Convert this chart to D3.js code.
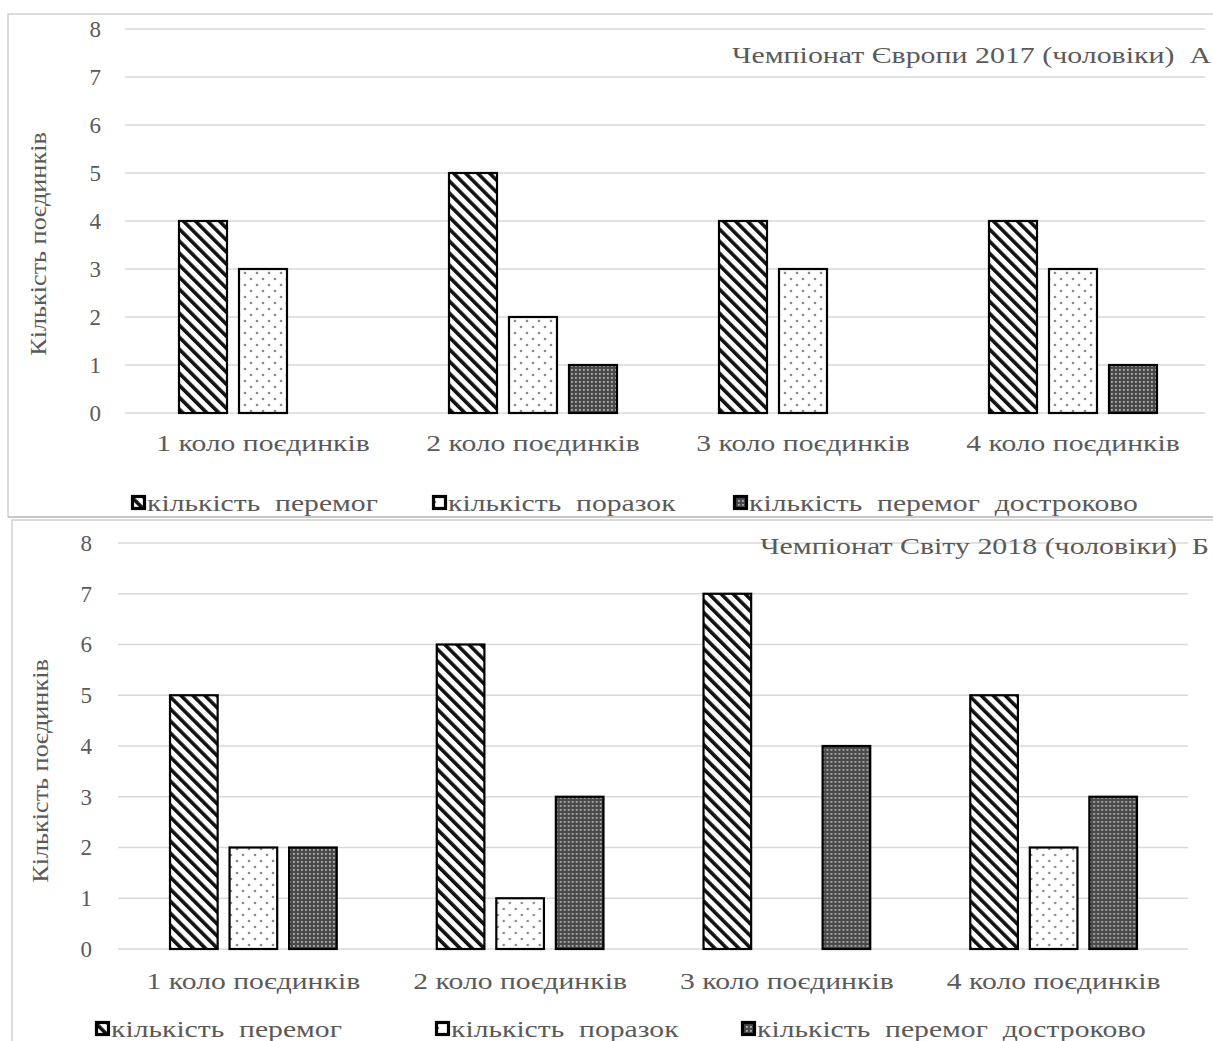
<!DOCTYPE html>
<html>
<head>
<meta charset="utf-8">
<script src="https://cdn.jsdelivr.net/npm/d3@7"></script>
<style>
  html, body { margin: 0; padding: 0; background: #fff; }
  svg { display: block; }
</style>
</head>
<body>
<svg id="chart" width="1213" height="1041"></svg>
<script>
// Rounds of bouts (categories)
const rounds = ["1 коло поєдинків", "2 коло поєдинків", "3 коло поєдинків", "4 коло поєдинків"];
// Series names
const seriesNames = ["кількість  перемог", "кількість  поразок", "кількість  перемог  достроково"];
const seriesKeys = ["wins", "losses", "early"];
const yTicks = [0, 1, 2, 3, 4, 5, 6, 7, 8];

// European Championship 2017 (men)
const euroWins   = [4, 5, 4, 4];
const euroLosses = [3, 2, 3, 3];
const euroEarly  = [0, 1, 0, 1];

// World Championship 2018 (men)
const worldWins   = [5, 6, 7, 5];
const worldLosses = [2, 1, 0, 2];
const worldEarly  = [2, 3, 4, 3];

const TEXT = "#5a5a5a";
const FONT = "Liberation Serif, Times New Roman, serif";
const WIDE = 1.29;   // horizontal stretch of the wide serif lettering

const svg = d3.select("#chart");
const defs = svg.append("defs");

// Wide downward diagonal hatch
const hatch = defs.append("pattern")
  .attr("id", "pat-wins").attr("patternUnits", "userSpaceOnUse")
  .attr("width", 8.5).attr("height", 8.5)
  .attr("patternTransform", "rotate(-45)");
hatch.append("rect").attr("width", 8.5).attr("height", 8.5).attr("fill", "#fff");
hatch.append("rect").attr("width", 3.6).attr("height", 8.5).attr("fill", "#111");

// Sparse dotted fill
const dots = defs.append("pattern")
  .attr("id", "pat-losses").attr("patternUnits", "userSpaceOnUse")
  .attr("width", 12).attr("height", 12);
dots.append("rect").attr("width", 12).attr("height", 12).attr("fill", "#fff");
dots.append("circle").attr("cx", 3).attr("cy", 3).attr("r", 1.3).attr("fill", "#8a8a8a");
dots.append("circle").attr("cx", 9).attr("cy", 9).attr("r", 1.3).attr("fill", "#8a8a8a");

// Dense dark grid fill
const dark = defs.append("pattern")
  .attr("id", "pat-early").attr("patternUnits", "userSpaceOnUse")
  .attr("width", 4).attr("height", 4);
dark.append("rect").attr("width", 4).attr("height", 4).attr("fill", "#4a4a4a");
dark.append("rect").attr("x", 1).attr("y", 1).attr("width", 1.8).attr("height", 1.8).attr("fill", "#b0b0b0");

const fills = { wins: "url(#pat-wins)", losses: "url(#pat-losses)", early: "url(#pat-early)" };

function drawPanel(cfg) {
  const g = svg.append("g").attr("font-family", FONT);
  const data = rounds.map((r, i) => ({
    round: r,
    values: [
      { key: "wins", value: cfg.wins[i] },
      { key: "losses", value: cfg.losses[i] },
      { key: "early", value: cfg.early[i] }
    ]
  }));

  // frame
  g.append("path")
    .attr("d", `M${cfg.frame.x1},${cfg.frame.y2} V${cfg.frame.y1} H${cfg.frame.x2}`)
    .attr("fill", "none").attr("stroke", "#d0d0d0").attr("stroke-width", 1.5);
  if (cfg.frame.bottom) {
    g.append("line")
      .attr("x1", cfg.frame.x1).attr("x2", cfg.frame.x2)
      .attr("y1", cfg.frame.y2).attr("y2", cfg.frame.y2)
      .attr("stroke", "#c8c8c8").attr("stroke-width", 2);
  }

  const y = d3.scaleLinear().domain([0, 8]).range([cfg.y0, cfg.y8]);
  const x0 = d3.scaleBand().domain(rounds).range([cfg.xl, cfg.xr]);
  const x1 = d3.scaleBand().domain(seriesKeys).range([0, x0.bandwidth()])
    .paddingInner(0.2).paddingOuter(cfg.outer);

  // gridlines
  g.append("g").selectAll("line").data(yTicks).join("line")
    .attr("x1", cfg.gridL).attr("x2", cfg.gridR)
    .attr("y1", d => y(d)).attr("y2", d => y(d))
    .attr("stroke", "#d9d9d9").attr("stroke-width", 1.5);

  // y axis labels
  const yAxis = d3.axisLeft(y).tickValues(yTicks).tickSize(0).tickPadding(0);
  const ya = g.append("g").attr("transform", `translate(${cfg.tickX},0)`).call(yAxis);
  ya.select(".domain").remove();
  ya.attr("font-family", FONT);
  ya.selectAll("text").attr("font-size", 23).attr("fill", TEXT);

  // bars
  const grp = g.append("g").selectAll("g").data(data).join("g")
    .attr("transform", d => `translate(${x0(d.round)},0)`);
  grp.selectAll("rect").data(d => d.values.filter(v => v.value > 0)).join("rect")
    .attr("x", d => x1(d.key))
    .attr("width", x1.bandwidth())
    .attr("y", d => y(d.value))
    .attr("height", d => y(0) - y(d.value))
    .attr("fill", d => fills[d.key])
    .attr("stroke", "#000").attr("stroke-width", 2.2);

  // category labels
  const xAxis = d3.axisBottom(x0).tickSize(0).tickPadding(0);
  const xa = g.append("g").attr("transform", `translate(0,${cfg.catY})`).call(xAxis);
  xa.select(".domain").remove();
  xa.attr("font-family", FONT);
  xa.selectAll("text")
    .attr("font-size", 23).attr("fill", TEXT).attr("dy", 0)
    .attr("transform", `scale(${WIDE},1)`);

  // y title
  g.append("text")
    .attr("transform", `translate(${cfg.yTitleX},${cfg.yTitleY}) rotate(-90) scale(1.14,1)`)
    .attr("text-anchor", "middle").attr("font-size", 23)
    .attr("fill", TEXT)
    .text("Кількість поєдинків");

  // panel title
  g.append("text")
    .attr("transform", `translate(${cfg.titleX},${cfg.titleY}) scale(1.3,1)`)
    .attr("text-anchor", "end").attr("font-size", 23)
    .attr("fill", TEXT)
    .style("white-space", "pre")
    .text(cfg.title);

  // legend
  const leg = g.append("g").selectAll("g").data(seriesKeys).join("g")
    .attr("transform", (d, i) => `translate(${cfg.legX[i]},${cfg.legY})`);
  leg.append("rect")
    .attr("x", 1.5).attr("y", -14.5).attr("width", 12).attr("height", 12)
    .attr("fill", d => fills[d]).attr("stroke", "#000").attr("stroke-width", 3.2);
  leg.append("text")
    .attr("transform", `translate(16,0) scale(${WIDE},1)`)
    .attr("font-size", 23).attr("fill", TEXT)
    .style("white-space", "pre")
    .text((d, i) => seriesNames[i]);
}

drawPanel({
  wins: euroWins, losses: euroLosses, early: euroEarly,
  frame: { x1: 8, y1: 14, x2: 1213, y2: 517, bottom: true },
  y0: 413, y8: 29, xl: 128, xr: 1208, outer: 0.85,
  gridL: 125, gridR: 1205, tickX: 101,
  catY: 451, yTitleX: 46, yTitleY: 244,
  title: "Чемпіонат Європи 2017 (чоловіки)  А", titleX: 1211, titleY: 63,
  legX: [131, 432, 733], legY: 511
});

drawPanel({
  wins: worldWins, losses: worldLosses, early: worldEarly,
  frame: { x1: 12, y1: 520, x2: 1213, y2: 1041, bottom: false },
  y0: 949, y8: 543, xl: 120, xr: 1187, outer: 0.84,
  gridL: 118, gridR: 1188, tickX: 92,
  catY: 989, yTitleX: 48, yTitleY: 771,
  title: "Чемпіонат Світу 2018 (чоловіки)  Б", titleX: 1209, titleY: 554,
  legX: [95, 435, 741], legY: 1037
});
</script>
</body>
</html>
